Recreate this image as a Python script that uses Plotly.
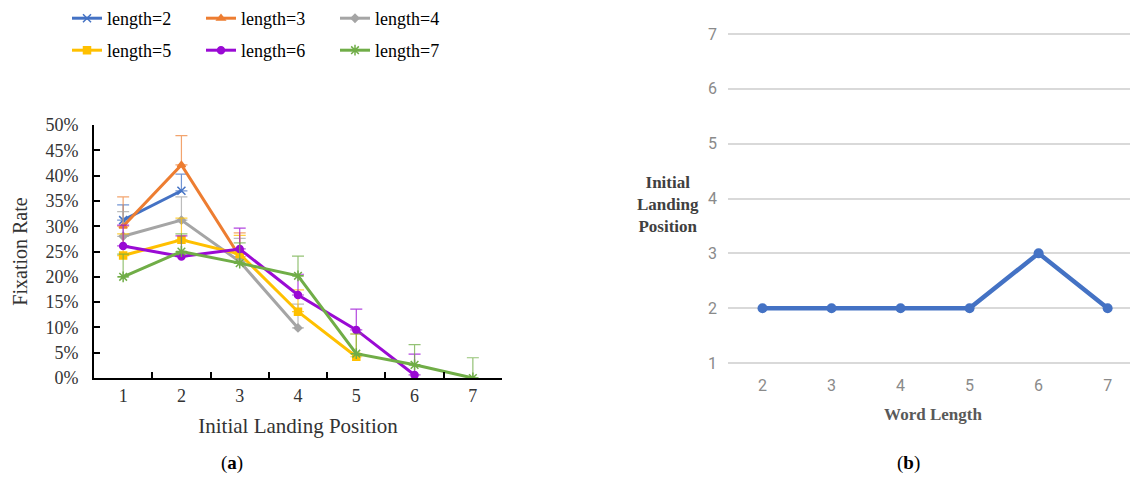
import plotly.graph_objects as go

# ---------------- data: panel (a) ----------------
positions = ["1", "2", "3", "4", "5", "6", "7"]
series_names = ["length=2", "length=3", "length=4", "length=5", "length=6", "length=7"]
len2 = [0.312, 0.370]
len3 = [0.300, 0.421, 0.240]
len4 = [0.280, 0.312, 0.230, 0.099]
len5 = [0.242, 0.273, 0.245, 0.131, 0.042]
len6 = [0.261, 0.240, 0.255, 0.164, 0.095, 0.006]
len7 = [0.200, 0.250, 0.227, 0.202, 0.048, 0.026, 0.000]
err2 = [0.030, 0.033]
err3 = [0.058, 0.058, 0.047]
err4 = [0.049, 0.046, 0.046, 0.047]
err5 = [0.043, 0.043, 0.037, 0.043, 0.045]
err6 = [0.041, 0.041, 0.041, 0.041, 0.041, 0.041]
err7 = [0.045, 0.035, 0.040, 0.039, 0.039, 0.040, 0.040]

# ---------------- data: panel (b) ----------------
word_length = ["2", "3", "4", "5", "6", "7"]
landing_pos = [2, 2, 2, 2, 3, 2]

colors = ["#4472C4", "#ED7D31", "#A5A5A5", "#FFC000", "#9A0AD4", "#70AD47"]
err_colors = ["rgba(68,114,196,0.75)", "rgba(237,125,49,0.7)", "rgba(165,165,165,0.75)",
              "rgba(255,192,0,0.75)", "rgba(154,10,212,0.75)", "rgba(112,173,71,0.75)"]
symbols = ["x-thin-open", "triangle-up", "diamond", "square", "circle", "asterisk-open"]
msizes = [8, 7, 6, 7, 7, 9]

values = [len2, len3, len4, len5, len6, len7]
errors = [err2, err3, err4, err5, err6, err7]

serif = "Liberation Serif, Times New Roman, serif"
narrow = "Liberation Sans Narrow, Arial Narrow, Roboto, sans-serif"
txt = "#333333"

fig = go.Figure()
for i, (name, v, e) in enumerate(zip(series_names, values, errors)):
    fig.add_trace(go.Scatter(
        x=positions[:len(v)], y=v, name=name, mode="lines+markers",
        line=dict(color=colors[i], width=3),
        marker=dict(symbol=symbols[i], size=msizes[i], color=colors[i],
                    line=dict(color=colors[i], width=1.5)),
        error_y=dict(type="data", symmetric=False, array=e, arrayminus=[0] * len(e),
                     color=err_colors[i], thickness=1.2, width=6),
        xaxis="x", yaxis="y",
        legend="legend" if i < 3 else "legend2",
    ))

fig.add_trace(go.Scatter(
    x=word_length, y=landing_pos, mode="lines+markers", showlegend=False,
    line=dict(color="#4472C4", width=4.5),
    marker=dict(symbol="circle", size=10, color="#4472C4"),
    xaxis="x2", yaxis="y2",
))

# page body has an 8px margin: work in screen pixels of the 1138x479 window
OFF = 8
W, H = 1138 - OFF, 479 - OFF
def px(x):
    return (x - OFF) / W
def py(y):
    return (H - (y - OFF)) / H

fig.update_layout(
    width=W, height=H, margin=dict(l=0, r=0, t=0, b=0, autoexpand=False),
    paper_bgcolor="white", plot_bgcolor="white",
    font=dict(family=serif, size=15, color=txt),
    xaxis=dict(domain=[px(94), px(502)], type="category", range=[-0.5, 6.5],
               showline=True, linecolor="black", linewidth=2,
               ticks="inside", tickson="boundaries", ticklen=6, tickwidth=2, tickcolor="black",
               showgrid=False, zeroline=False, automargin=False,
               tickfont=dict(family=serif, size=18, color=txt),
               title=dict(text="Initial Landing Position", font=dict(family=serif, size=21, color=txt),
                          standoff=14)),
    yaxis=dict(domain=[py(378), py(125)], range=[0, 0.5], dtick=0.05, tickformat=".0%",
               showline=True, linecolor="black", linewidth=2,
               ticks="inside", ticklen=6, tickwidth=2, tickcolor="black",
               showgrid=False, zeroline=False, automargin=False,
               ticklabelstandoff=10,
               tickfont=dict(family=serif, size=18, color=txt),
               title=dict(text="Fixation Rate", font=dict(family=serif, size=20, color=txt),
                          standoff=12)),
    xaxis2=dict(domain=[px(728), 1.0], type="category", range=[-0.5, 5.44],
                showline=False, ticks="", showgrid=False, zeroline=False, automargin=False,
                ticklabelstandoff=5,
                tickfont=dict(family=narrow, size=16, color="#8a8a8a"),
                title=dict(text="<b>Word Length</b>", font=dict(family=serif, size=17, color="#595959"),
                           standoff=14),
                anchor="y2"),
    yaxis2=dict(domain=[py(368.5), py(28.5)], range=[0.9, 7.1], dtick=1, tick0=1,
                showline=False, ticks="", showgrid=True, gridcolor="#d9d9d9", gridwidth=1.5,
                zeroline=False, automargin=False,
                tickfont=dict(family=narrow, size=16, color="#8a8a8a"),
                ticklabelstandoff=10,
                anchor="x2"),
    legend=dict(orientation="h", x=px(67), y=py(0), xanchor="left", yanchor="top",
                entrywidth=89, entrywidthmode="pixels", tracegroupgap=0,
                font=dict(family=serif, size=18, color="black"), bgcolor="rgba(0,0,0,0)"),
    legend2=dict(orientation="h", x=px(67), y=py(32), xanchor="left", yanchor="top",
                 entrywidth=89, entrywidthmode="pixels", tracegroupgap=0,
                 font=dict(family=serif, size=18, color="black"), bgcolor="rgba(0,0,0,0)"),
    annotations=[
        dict(text="<b>Initial</b><br><b>Landing</b><br><b>Position</b>", x=px(668), y=py(204),
             xref="paper", yref="paper",
             showarrow=False, align="center", xanchor="center", yanchor="middle",
             font=dict(family=serif, size=17, color="#404040")),
        dict(text="(<b>a</b>)", x=px(232), y=py(463), xref="paper", yref="paper",
             showarrow=False, xanchor="center", yanchor="middle",
             font=dict(family=serif, size=19, color="black")),
        dict(text="(<b>b</b>)", x=px(908), y=py(463), xref="paper", yref="paper",
             showarrow=False, xanchor="center", yanchor="middle",
             font=dict(family=serif, size=19, color="black")),
    ],
)

fig.write_html("out.html")
